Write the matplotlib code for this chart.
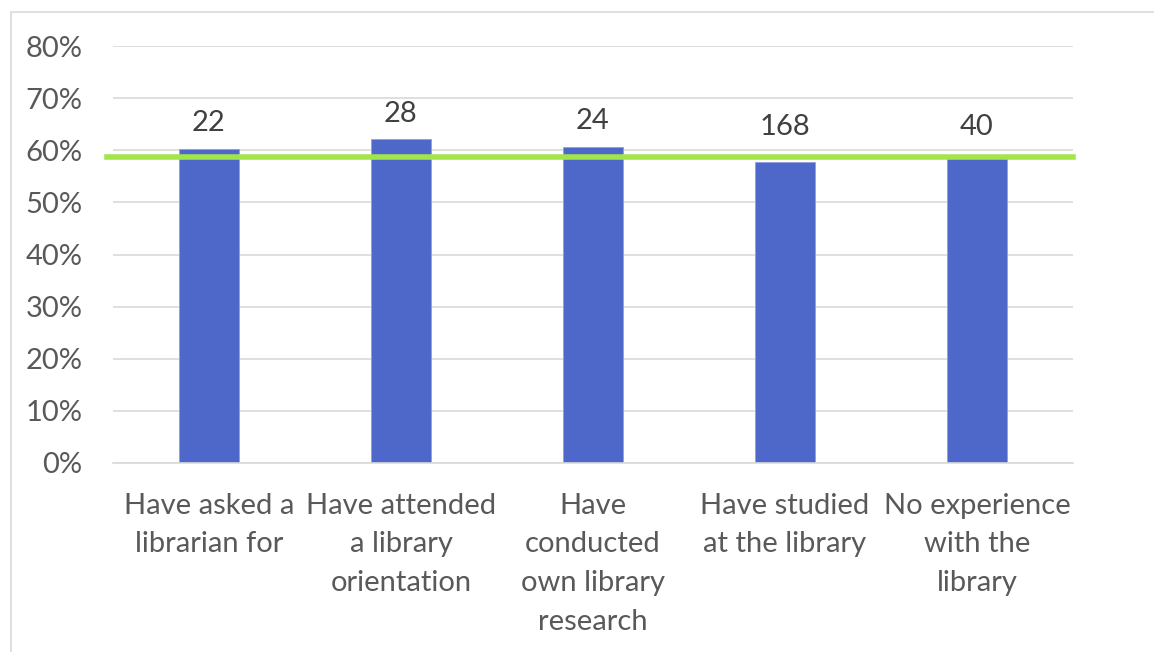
import matplotlib.pyplot as plt
from matplotlib.patches import Rectangle
from matplotlib.ticker import PercentFormatter

plt.rcParams['font.family'] = ['Lato', 'DejaVu Sans']

# Share of respondents per experience group, with the group sizes as labels
categories = ['Have asked a\nlibrarian for',
              'Have attended\na library\norientation',
              'Have\nconducted\nown library\nresearch',
              'Have studied\nat the library',
              'No experience\nwith the\nlibrary']
shares = [0.603, 0.621, 0.606, 0.578, 0.587]
counts = [22, 28, 24, 168, 40]
overall = 0.588

fig = plt.figure(figsize=(11.54, 6.52), dpi=100)
ax = fig.add_axes([0.0979, 0.2899, 0.8319, 0.6395])

# light frame around the chart area
fig.patches.append(Rectangle((0.0095, -0.01), 1.0, 0.992, transform=fig.transFigure,
                             fill=False, edgecolor='#d9d9d9', linewidth=1.2))

x = range(len(categories))
bars = ax.bar(x, shares, width=0.31, color='#4e68c9', edgecolor='#8fa0e0',
              linewidth=0.6, zorder=2)
ax.axhline(overall, xmin=-0.006, xmax=1.0, color='#a2e64c', linewidth=4,
           zorder=3, clip_on=False)

# counts sit above whichever is higher: the bar or the average line
for bar, n in zip(bars, counts):
    top = max(bar.get_height(), overall + 0.0065)
    ax.annotate(str(n), (bar.get_x() + bar.get_width() / 2, top),
                xytext=(0, 18.5), textcoords='offset points', ha='center',
                va='center', fontsize=21, color='#404040')

ax.set_xlim(-0.5, len(categories) - 0.5)
ax.set_ylim(0, 0.8)
ax.set_yticks([i / 10 for i in range(9)])
ax.yaxis.set_major_formatter(PercentFormatter(1.0, decimals=0))
ax.set_xticks(list(x))
ax.set_xticklabels(categories, fontsize=21, color='#595959', linespacing=1.6,
                   va='top')
ax.tick_params(axis='y', labelsize=21, labelcolor='#595959', length=0, pad=22)
ax.tick_params(axis='x', length=0, pad=21.5)

ax.grid(axis='y', color='#d9d9d9', linewidth=1.2, zorder=0)
for side in ['top', 'right', 'left']:
    ax.spines[side].set_visible(False)
ax.spines['bottom'].set_color('#d9d9d9')
ax.spines['bottom'].set_linewidth(1.2)

plt.savefig('out.png')
